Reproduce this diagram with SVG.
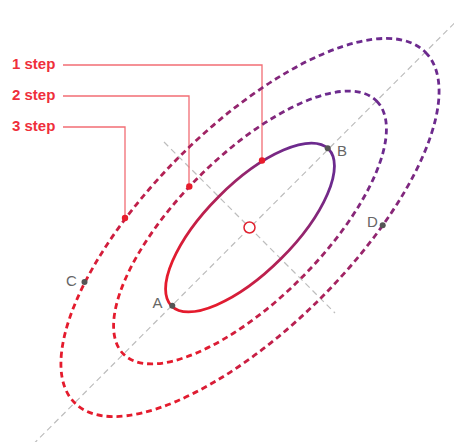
<svg xmlns="http://www.w3.org/2000/svg" width="454" height="442" viewBox="0 0 454 442">
<style>
.axis{fill:none;stroke:#bdbdbd;stroke-width:1.2;stroke-dasharray:6 4}
.ell{fill:none;stroke:url(#g);stroke-width:2.8}
.dash{stroke-dasharray:6 4}
.lead{fill:none;stroke:#f26d74;stroke-width:1.3}
.step{font-family:"Liberation Sans",Arial,sans-serif;font-weight:bold;font-size:15px;fill:#ef2f3b}
.lbl{font-family:"Liberation Sans",Arial,sans-serif;font-size:15px;fill:#666}
.pt{fill:#555}
.rd{fill:#e81c2c}
</style>
<defs>
<linearGradient id="g" x1="0" y1="0" x2="1" y2="0">
<stop offset="0.15" stop-color="#e41b2d"/>
<stop offset="0.9" stop-color="#6c2a8e"/>
</linearGradient>
</defs>
<g id="connectors">
<line class="axis" x1="33" y1="444.5" x2="456" y2="21.5"/>
<line class="axis" x1="164" y1="142" x2="335" y2="313"/>
<polyline class="lead" points="63,65 262,65 262,160"/>
<polyline class="lead" points="63,96 189,96 189,186"/>
<polyline class="lead" points="63,127 125,127 125,218"/>
</g>
<g id="ellipse-outer"><ellipse class="ell dash" cx="250" cy="227.5" rx="248" ry="100" transform="rotate(-45 250 227.5)"/></g>
<g id="ellipse-middle"><ellipse class="ell dash" cx="250" cy="227.5" rx="179" ry="72" transform="rotate(-45 250 227.5)"/></g>
<g id="ellipse-inner"><ellipse class="ell" cx="250" cy="227.5" rx="111" ry="44" transform="rotate(-45 250 227.5)"/></g>
<g id="center"><circle cx="249.5" cy="227.5" r="5.5" fill="#fff" stroke="#e0212f" stroke-width="1.5"/></g>
<g id="step1"><text class="step" x="12" y="69">1 step</text><circle class="rd" cx="262" cy="160.5" r="3.2"/></g>
<g id="step2"><text class="step" x="12" y="100">2 step</text><circle class="rd" cx="189.3" cy="186.5" r="3.2"/></g>
<g id="step3"><text class="step" x="12" y="131">3 step</text><circle class="rd" cx="125" cy="218" r="3.2"/></g>
<g id="A"><circle class="pt" cx="172.3" cy="305.7" r="3"/><text class="lbl" x="152.5" y="308">A</text></g>
<g id="B"><circle class="pt" cx="327.7" cy="148.3" r="3"/><text class="lbl" x="337" y="155.5">B</text></g>
<g id="C"><circle class="pt" cx="84.5" cy="282" r="3"/><text class="lbl" x="66" y="286">C</text></g>
<g id="D"><circle class="pt" cx="382.7" cy="225.2" r="3"/><text class="lbl" x="367" y="227">D</text></g>
</svg>
